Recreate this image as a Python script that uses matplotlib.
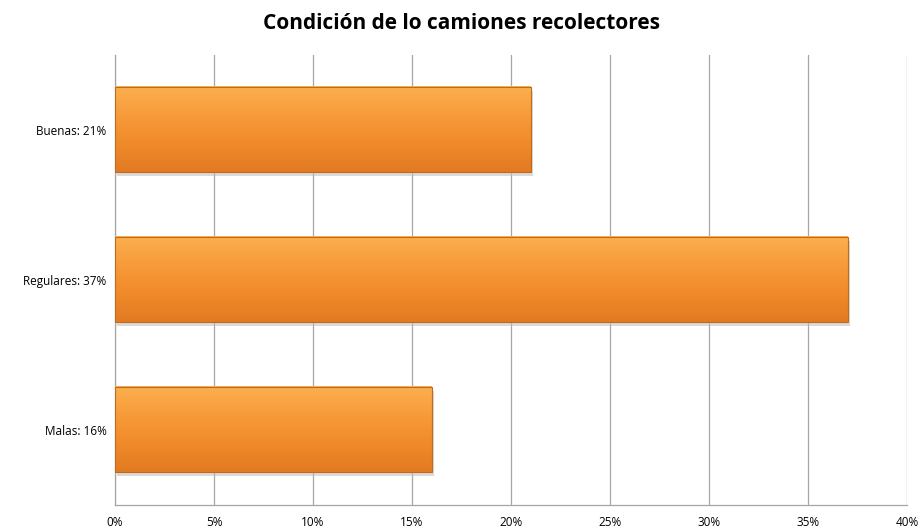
import numpy as np
import matplotlib
matplotlib.use("Agg")
import matplotlib.pyplot as plt
from matplotlib.colors import LinearSegmentedColormap

plt.rcParams['font.family'] = ['Open Sans', 'DejaVu Sans']

# datos
categorias = ["Buenas: 21%", "Regulares: 37%", "Malas: 16%"]
valores = [21, 37, 16]
ticks_x = [0, 5, 10, 15, 20, 25, 30, 35, 40]
titulo = "Condición de lo camiones recolectores"

fig = plt.figure(figsize=(9.22, 5.29), dpi=100)
ax = fig.add_axes([0.1247, 0.0454, 0.859, 0.851])

pos = np.arange(len(categorias))
barras = ax.barh(pos, valores, height=0.567, color="none", zorder=3)

# degradado naranja para cada barra
cmap = LinearSegmentedColormap.from_list(
    "naranja", ["#fbb050", "#f89b3a", "#f08a2a", "#e27a22"])
grad = np.linspace(0, 1, 256).reshape(-1, 1)
for b in barras:
    x0, y0 = b.get_x(), b.get_y()
    w, h = b.get_width(), b.get_height()
    # sombra (abajo a la derecha; eje y invertido)
    ax.add_patch(plt.Rectangle((x0 + 0.1, y0 + 0.025), w, h,
                               color="#bdbdbd", alpha=0.55, zorder=2, lw=0))
    ax.imshow(grad, extent=(x0, x0 + w, y0, y0 + h), cmap=cmap,
              aspect="auto", zorder=3, origin="lower")
    ax.add_patch(plt.Rectangle((x0, y0), w, h, fill=False,
                               edgecolor="#c06a1e", lw=0.8, zorder=4))

ax.set_xlim(0, 40)
ax.set_ylim(len(categorias) - 0.5, -0.5)
ax.set_xticks(ticks_x)
ax.set_xticklabels([f"{t}%" for t in ticks_x], fontsize=8.5)
ax.set_yticks(pos)
ax.set_yticklabels(categorias, fontsize=8.5)
ax.tick_params(length=0, pad=8)
ax.tick_params(axis="y", pad=6)

ax.grid(axis="x", color="#a6a6a6", lw=0.9, zorder=0)
ax.set_axisbelow(True)
for s in ["top", "right"]:
    ax.spines[s].set_visible(False)
for s in ["left", "bottom"]:
    ax.spines[s].set_color("#a6a6a6")
    ax.spines[s].set_linewidth(0.9)

fig.suptitle(titulo, fontsize=15, fontweight="bold", y=0.975)

fig.savefig("out.png", dpi=100)
